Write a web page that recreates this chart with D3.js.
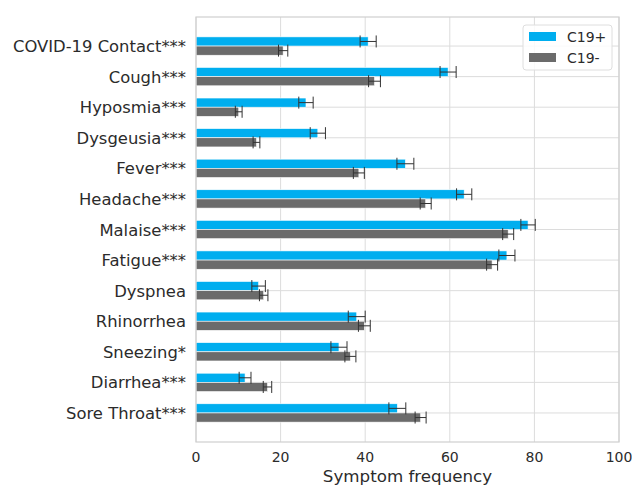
<!DOCTYPE html>
<html>
<head>
<meta charset="utf-8">
<script src="https://cdn.jsdelivr.net/npm/d3@7"></script>
<style>
  body { margin: 0; background: #fff; }
  text { font-family: "DejaVu Sans", sans-serif; fill: #2b2b2b; }
</style>
</head>
<body>
<svg id="svg" width="632" height="487"></svg>
<script>
// symptoms, top to bottom
const categories = ["COVID-19 Contact***", "Cough***", "Hyposmia***", "Dysgeusia***", "Fever***",
  "Headache***", "Malaise***", "Fatigue***", "Dyspnea", "Rhinorrhea", "Sneezing*", "Diarrhea***", "Sore Throat***"];

// C19+ frequency and error
const posValues = [40.7, 59.6, 26.0, 28.8, 49.5, 63.4, 78.5, 73.5, 14.8, 38.0, 33.8, 11.6, 47.6];
const posErr    = [1.9, 1.9, 1.7, 1.8, 2.0, 1.8, 1.7, 1.9, 1.6, 2.0, 1.9, 1.4, 2.0];

// C19- frequency and error
const negValues = [20.6, 42.2, 10.1, 14.3, 38.5, 54.3, 73.8, 70.0, 16.0, 39.8, 36.5, 16.9, 53.1];
const negErr    = [1.1, 1.4, 0.8, 0.8, 1.3, 1.3, 1.3, 1.3, 1.0, 1.4, 1.3, 1.0, 1.3];

const xTicks = [0, 20, 40, 60, 80, 100];
const seriesNames = ["C19+", "C19-"];
const colors = ["#00aeef", "#6b6b6b"];

const svg = d3.select("svg");
const plot = { left: 196, right: 619, top: 17, bottom: 442 };

const x = d3.scaleLinear().domain([0, 100]).range([plot.left, plot.right]);
// category index -> y (center of each pair)
const y = d3.scaleLinear().domain([-0.95, 12.95]).range([plot.top, plot.bottom]);
const barH = y(0.3) - y(0);

// grid lines
const grid = svg.append("g");
grid.selectAll(".vg").data(xTicks).enter().append("line")
  .attr("x1", d => x(d)).attr("x2", d => x(d))
  .attr("y1", plot.top).attr("y2", plot.bottom)
  .attr("stroke", "#dcdcdc").attr("stroke-width", 1);
grid.selectAll(".hg").data(categories).enter().append("line")
  .attr("x1", plot.left).attr("x2", plot.right)
  .attr("y1", (d, i) => y(i)).attr("y2", (d, i) => y(i))
  .attr("stroke", "#dcdcdc").attr("stroke-width", 1);

// bars
const series = [
  { vals: posValues, err: posErr, off: -0.3 },
  { vals: negValues, err: negErr, off: 0 }
];

series.forEach(function(s, k) {
  svg.append("g").selectAll("rect").data(s.vals).enter().append("rect")
    .attr("x", x(0))
    .attr("y", (d, i) => y(i + s.off))
    .attr("width", d => x(d) - x(0))
    .attr("height", barH)
    .attr("fill", colors[k])
    .attr("stroke", "#fff").attr("stroke-width", 0.6);
});

// error bars
series.forEach(function(s, k) {
  const g = svg.append("g").attr("stroke", "#333").attr("stroke-width", 1);
  s.vals.forEach(function(v, i) {
    const cy = y(i + s.off + 0.15);
    const lo = x(v - s.err[i]), hi = x(v + s.err[i]);
    g.append("line").attr("x1", lo).attr("x2", hi).attr("y1", cy).attr("y2", cy);
    g.append("line").attr("x1", lo).attr("x2", lo).attr("y1", cy - 6).attr("y2", cy + 6);
    g.append("line").attr("x1", hi).attr("x2", hi).attr("y1", cy - 6).attr("y2", cy + 6);
  });
});

// frame
svg.append("rect")
  .attr("x", plot.left).attr("y", plot.top)
  .attr("width", plot.right - plot.left).attr("height", plot.bottom - plot.top)
  .attr("fill", "none").attr("stroke", "#cfcfcf").attr("stroke-width", 1.2);

// x axis labels
svg.append("g").selectAll("text").data(xTicks).enter().append("text")
  .attr("x", d => x(d)).attr("y", 462)
  .attr("text-anchor", "middle").attr("font-size", 14)
  .text(d => d);

svg.append("text")
  .attr("x", (plot.left + plot.right) / 2).attr("y", 482)
  .attr("text-anchor", "middle").attr("font-size", 16.7)
  .text("Symptom frequency");

// y labels
svg.append("g").selectAll("text").data(categories).enter().append("text")
  .attr("x", 186).attr("y", (d, i) => y(i) + 6)
  .attr("text-anchor", "end").attr("font-size", 16.4)
  .text(d => d);

// legend
const lg = svg.append("g");
lg.append("rect").attr("x", 523).attr("y", 25).attr("width", 89).attr("height", 45)
  .attr("rx", 3).attr("fill", "#fff").attr("fill-opacity", 0.85)
  .attr("stroke", "#dedede");
seriesNames.forEach(function(n, k) {
  lg.append("rect").attr("x", 529).attr("y", 32 + k * 21).attr("width", 27).attr("height", 9)
    .attr("fill", colors[k]);
  lg.append("text").attr("x", 567).attr("y", 41.5 + k * 21)
    .attr("font-size", 14).text(n);
});
</script>
</body>
</html>
